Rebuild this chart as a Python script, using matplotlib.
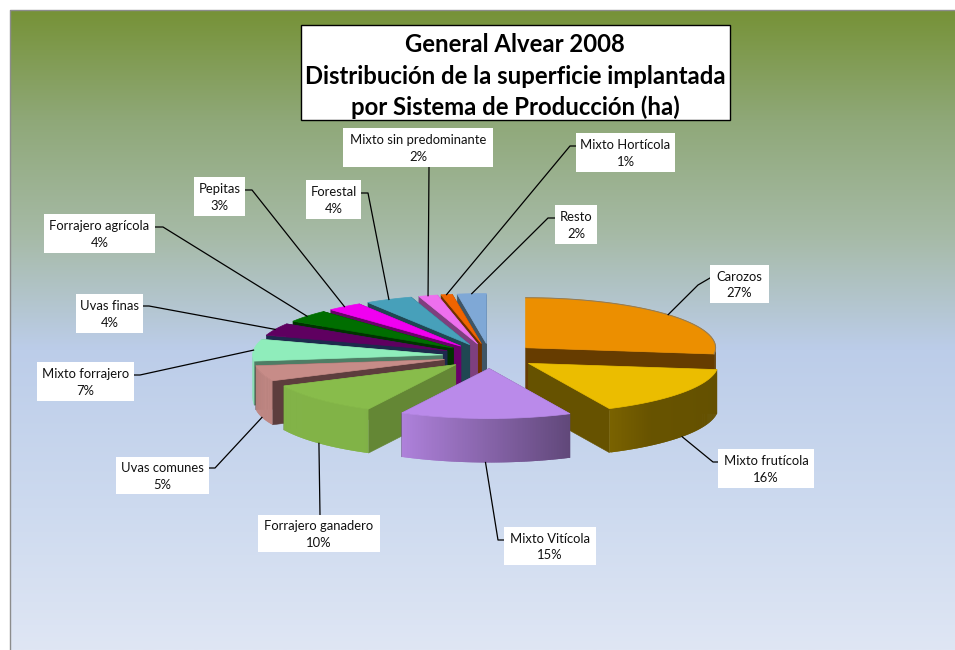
import matplotlib
matplotlib.use("Agg")
import matplotlib.pyplot as plt
import numpy as np
from matplotlib.colors import LinearSegmentedColormap, to_rgb
from matplotlib.patches import Polygon, Rectangle

plt.rcParams['font.family'] = ['Lato', 'DejaVu Sans']

# Data, clockwise from 12 o'clock (labels only give whole percents)
categories = ["Carozos", "Mixto frutícola", "Mixto Vitícola", "Forrajero ganadero", "Uvas comunes",
              "Mixto forrajero", "Uvas finas", "Forrajero agrícola", "Pepitas", "Forestal",
              "Mixto sin predominante", "Mixto Hortícola", "Resto"]
percents = [27, 16, 14.6, 10.4, 5, 7, 4, 4, 3, 4, 1.6, 0.95, 2.45]
title_lines = ["General Alvear 2008", "Distribución de la superficie implantada",
               "por Sistema de Producción (ha)"]

top_colors = ["#EC8F00", "#EBBD00", "#BA8AEA", "#88BC4B", "#C78C88", "#8FEDBB", "#5F0060",
              "#006E00", "#F000F0", "#47A0BA", "#EE6FEE", "#F06400", "#7FA8D6"]
wall_colors = ["#663C00", "#665200", "#5F4A7B", "#648735", "#5D3D3D", "#4E7D65", "#1D2A4D",
               "#003300", "#6A006A", "#1F4752", "#7E3F7E", "#6E3000", "#3F5566"]

# label box: left, top, right, bottom (pixels); leader elbow on the box side
boxes = [(710, 265, 769, 303), (718, 449, 814, 488), (504, 527, 596, 565), (258, 515, 380, 552),
         (116, 457, 209, 494), (37, 362, 134, 401), (76, 294, 143, 333), (44, 214, 155, 253),
         (194, 177, 245, 216), (306, 180, 361, 219), (343, 128, 493, 167), (576, 133, 675, 172),
         (555, 205, 597, 244)]
leader_ends = [[(710, 278), (698, 285)], [(718, 462), (713, 462)], [(504, 540), (498, 540)],
               [(320, 515)], [(209, 468), (215, 468)], [(134, 375), (140, 375)], [(143, 306), (149, 306)],
               [(155, 227), (163, 227)], [(245, 190), (252, 190)], [(361, 193), (368, 193)], [(429, 167)],
               [(576, 146), (570, 146)], [(555, 218), (548, 218)]]

CX, CY = 490, 356      # centre of the unexploded pie
RX, RY = 190, 50       # top ellipse
EXPL = 0.25            # explosion, fraction of the radius
DEPTH = 44

bg_pos = [0, 0.17, 0.35, 0.53, 0.78, 1]
bg_col = ["#769237", "#8FA878", "#A6BAA6", "#BCCDE9", "#CDDAEF", "#DFE6F4"]


def arc_shade(th):
    # light comes from the left/front
    return np.interp(th, [90, 140, 155, 209, 360], [0.42, 0.44, 0.52, 0.95, 0.97])


def rim(apex, th):
    t = np.radians(th)
    return apex[0] + RX * np.sin(t), apex[1] - RY * np.cos(t)


fig = plt.figure(figsize=(9.55, 6.5), dpi=100)
ax = fig.add_axes([0, 0, 1, 1])
ax.set_xlim(0, 955)
ax.set_ylim(650, 0)
ax.axis("off")

cmap = LinearSegmentedColormap.from_list("bg", list(zip(bg_pos, bg_col)))
ax.imshow(np.linspace(0, 1, 256)[:, None], cmap=cmap, extent=(10, 955, 650, 10), aspect="auto", zorder=0)
ax.set_xlim(0, 955)
ax.set_ylim(650, 0)
ax.plot([10, 10, 955], [650, 10, 10], color="#8c8c8c", lw=1, zorder=1)

fracs = np.array(percents) / sum(percents) * 360
starts = np.concatenate([[0], np.cumsum(fracs)[:-1]])
ends = starts + fracs
mids = (starts + ends) / 2
apexes = [(CX + EXPL * RX * np.sin(np.radians(m)), CY - EXPL * RY * np.cos(np.radians(m))) for m in mids]

# back slices first
z = 2.0
for i in np.argsort(-np.cos(np.radians(mids))):
    apex = apexes[i]
    walls = []
    for th in (starts[i], ends[i]):
        x, y = rim(apex, th)
        quad = [apex, (x, y), (x, y + DEPTH), (apex[0], apex[1] + DEPTH)]
        walls.append((max(y, apex[1]), quad))
    for _, quad in sorted(walls, key=lambda w: w[0]):
        ax.add_patch(Polygon(quad, fc=wall_colors[i], ec=wall_colors[i], lw=0.4, zorder=z))
        z += 0.001
    # outer wall, in small overlapping strips so that the shading runs along it
    ths = np.linspace(starts[i], ends[i], 2 * max(int(fracs[i]), 2) + 1)
    base = np.array(to_rgb(top_colors[i]))
    for a, b, c in zip(ths[:-2], ths[1:-1], ths[2:]):
        if np.cos(np.radians(b)) > 0.05:
            continue
        pts = [rim(apex, th) for th in (a, b, c)]
        pts = pts + [(x, y + DEPTH) for x, y in pts[::-1]]
        ax.add_patch(Polygon(pts, fc=base * arc_shade(b), ec="none", zorder=z))
        z += 0.001
    ths = np.linspace(starts[i], ends[i], 40)
    pts = [apex] + [rim(apex, th) for th in ths]
    ax.add_patch(Polygon(pts, fc=top_colors[i], ec=top_colors[i], lw=0.5, zorder=z))
    z += 0.001
    if i == 0:
        ax.plot(*zip(*pts[1:]), color="#8C7B5E", lw=0.7, zorder=z)
        z += 0.001

# labels and leaders
for i, name in enumerate(categories):
    l, t, r, b = boxes[i]
    th = mids[i]
    ax_pt = rim(apexes[i], th)
    if np.cos(np.radians(th)) < 0 and i in (1, 2, 3, 4):
        ax_pt = (ax_pt[0], ax_pt[1] + DEPTH)
    pts = leader_ends[i] + [ax_pt]
    ax.plot([p[0] for p in pts], [p[1] for p in pts], color="black", lw=0.9, zorder=30)
    ax.add_patch(Rectangle((l, t), r - l, b - t, fc="white", ec="none", zorder=31))
    ax.text((l + r) / 2, (t + b) / 2 + 1, f"{name}\n{percents[i]:.0f}%", ha="center", va="center",
            fontsize=9.4, color="#111111", linespacing=1.42, zorder=32)

# title box
ax.add_patch(Rectangle((301, 25), 429, 95, fc="white", ec="black", lw=1, zorder=31))
for line, y in zip(title_lines, (45, 76, 107)):
    ax.text(515, y, line, ha="center", va="center", fontsize=17.2, fontweight="bold",
            color="black", zorder=32)

fig.savefig("out.png", dpi=100)
